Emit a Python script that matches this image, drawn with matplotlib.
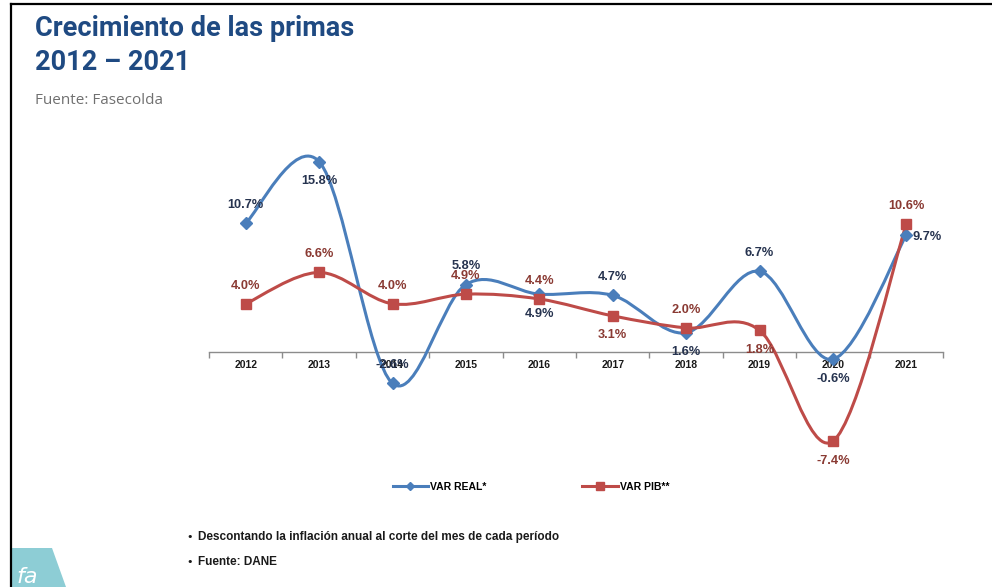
import matplotlib
matplotlib.use("Agg")
import matplotlib.pyplot as plt
from matplotlib.path import Path
from matplotlib.patches import PathPatch, Polygon
from matplotlib.lines import Line2D
import numpy as np

# ---- data ----
years = ["2012", "2013", "2014", "2015", "2016", "2017", "2018", "2019", "2020", "2021"]
var_real = [10.7, 15.8, -2.6, 5.6, 4.8, 4.7, 1.6, 6.7, -0.6, 9.7]
var_pib = [4.0, 6.6, 4.0, 4.8, 4.4, 3.0, 2.0, 1.8, -7.4, 10.6]
labels_real = ["10.7%", "15.8%", "-2.6%", "5.8%", "4.9%", "4.7%", "1.6%", "6.7%", "-0.6%", "9.7%"]
labels_pib = ["4.0%", "6.6%", "4.0%", "4.9%", "4.4%", "3.1%", "2.0%", "1.8%", "-7.4%", "10.6%"]
pos_real = ["up", "down", "up", "up", "down", "up", "down", "up", "down", "right"]
pos_pib = ["up", "up", "up", "up", "up", "down", "up", "down", "down", "up"]

BLUE = "#4a7ebb"
RED = "#be4b48"
BLUE_TXT = "#26334f"
RED_TXT = "#8a3a33"
NARROW = ["Liberation Sans Narrow", "Liberation Sans", "DejaVu Sans"]

fig = plt.figure(figsize=(9.92, 5.87), dpi=100)
fig.patch.set_facecolor("white")

ax = fig.add_axes([209 / 992, 1 - 470 / 587, (943 - 209) / 992, (470 - 130) / 587])
ax.set_xlim(-0.5, len(years) - 0.5)
ax.set_ylim(-118 / 12.05, 222 / 12.05)
ax.set_facecolor("none")
for s in ["top", "right", "left"]:
    ax.spines[s].set_visible(False)
ax.spines["bottom"].set_position(("data", 0))
ax.spines["bottom"].set_color("#8c8c8c")
ax.spines["bottom"].set_linewidth(1.0)
ax.set_yticks([])
x = np.arange(len(years))
ax.set_xticks(x)
ax.set_xticklabels(years, fontfamily=NARROW, fontweight="bold", fontsize=7.5, color="#1a1a1a")
ax.tick_params(axis="x", which="major", length=0, pad=6)
ax.set_xticks(np.arange(-0.5, len(years)), minor=True)
ax.tick_params(axis="x", which="minor", length=4, color="#8c8c8c", width=1.0, direction="out")


def smooth_path(xs, ys):
    pts = np.column_stack([xs, ys]).astype(float)
    n = len(pts)
    verts = [pts[0]]
    codes = [Path.MOVETO]
    for i in range(n - 1):
        p0 = pts[i - 1] if i > 0 else pts[i]
        p1 = pts[i]
        p2 = pts[i + 1]
        p3 = pts[i + 2] if i + 2 < n else pts[i + 1]
        c1 = p1 + (p2 - p0) / 6.0
        c2 = p2 - (p3 - p1) / 6.0
        verts += [c1, c2, p2]
        codes += [Path.CURVE4] * 3
    return Path(verts, codes)


ax.add_patch(PathPatch(smooth_path(x, var_real), fill=False, edgecolor=BLUE, lw=2.2, zorder=3))
ax.add_patch(PathPatch(smooth_path(x, var_pib), fill=False, edgecolor=RED, lw=2.2, zorder=3))
ax.plot(x, var_real, linestyle="none", marker="D", ms=6, color=BLUE, zorder=4)
ax.plot(x, var_pib, linestyle="none", marker="s", ms=7.5, color=RED, zorder=4)

offs = {"up": (0, 13), "down": (0, -14), "right": (15, -1)}
for xi, v, lab, p in zip(x, var_real, labels_real, pos_real):
    dx, dy = offs[p]
    ax.annotate(lab, (xi, v), xytext=(dx, dy), textcoords="offset points",
                ha="center", va="center", fontfamily=NARROW, fontweight="bold",
                fontsize=9.2, color=BLUE_TXT, zorder=5)
for xi, v, lab, p in zip(x, var_pib, labels_pib, pos_pib):
    dx, dy = offs[p]
    ax.annotate(lab, (xi, v), xytext=(dx, dy), textcoords="offset points",
                ha="center", va="center", fontfamily=NARROW, fontweight="bold",
                fontsize=9.2, color=RED_TXT, zorder=5)

# legend
h1 = Line2D([], [], color=BLUE, lw=2.2, marker="D", ms=4.5)
h2 = Line2D([], [], color=RED, lw=2.2, marker="s", ms=5.5)
fig.legend([h1, h2], ["VAR REAL*", "VAR PIB**"], loc="center", bbox_to_anchor=(531 / 992, 1 - 487 / 587),
           ncol=2, frameon=False, columnspacing=9.2, handlelength=3.4, handletextpad=0.2,
           prop={"family": NARROW, "weight": "bold", "size": 7.5})

# titles
fig.text(35 / 992, 1 - 29 / 587, "Crecimiento de las primas", fontfamily=["Roboto", "DejaVu Sans"],
         fontweight="bold", fontsize=19.5, color="#1f4a82", va="center", ha="left")
fig.text(35 / 992, 1 - 63 / 587, "2012 – 2021", fontfamily=["Roboto", "DejaVu Sans"],
         fontweight="bold", fontsize=19.5, color="#1f4a82", va="center", ha="left")
fig.text(35 / 992, 1 - 100 / 587, "Fuente: Fasecolda", fontfamily=["Open Sans", "DejaVu Sans"],
         fontsize=11, color="#707070", va="center", ha="left")

# footnotes
for yy, t in [(537, "Descontando la inflación anual al corte del mes de cada período"), (562, "Fuente: DANE")]:
    fig.text(186 / 992, 1 - yy / 587, "•", fontsize=8, color="#1a1a1a", va="center", ha="left")
    fig.text(198 / 992, 1 - yy / 587, t, fontfamily=NARROW, fontweight="bold", fontsize=8.5,
             color="#1a1a1a", va="center", ha="left")

# slide frame
fig.add_artist(Line2D([10.5 / 992, 10.5 / 992], [0, 1 - 3.5 / 587], color="black", lw=1.6,
                      transform=fig.transFigure))
fig.add_artist(Line2D([10.5 / 992, 1], [1 - 3.5 / 587, 1 - 3.5 / 587], color="black", lw=1.6,
                      transform=fig.transFigure))

# logo
logo = Polygon([(12 / 992, 1 - 548 / 587), (52 / 992, 1 - 548 / 587), (66 / 992, 0), (12 / 992, 0)],
               closed=True, facecolor="#8dcdd5", edgecolor="none", transform=fig.transFigure)
fig.add_artist(logo)
fig.text(16 / 992, 1 - 577 / 587, "fa", fontfamily=["DejaVu Sans"], fontsize=16, color="white",
         va="center", ha="left", style="italic")

fig.savefig("out.png", dpi=100, facecolor="white")
